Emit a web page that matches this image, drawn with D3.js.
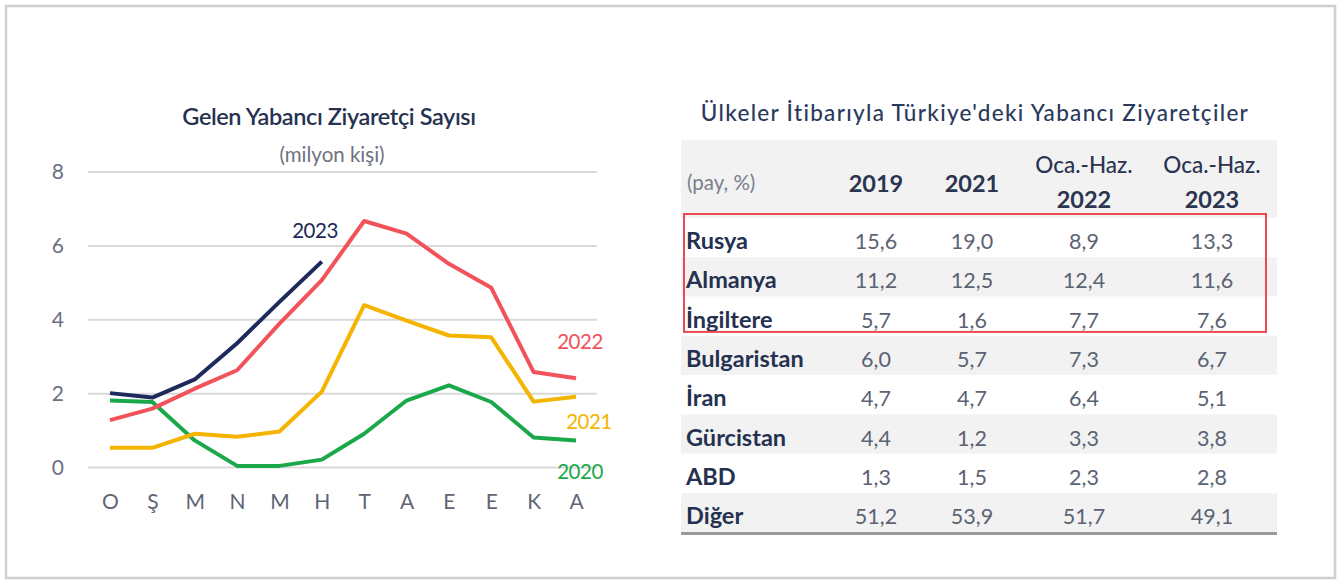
<!DOCTYPE html>
<html>
<head>
<meta charset="utf-8">
<script src="https://cdn.jsdelivr.net/npm/d3@7"></script>
<style>
  html, body { margin: 0; padding: 0; background: #fff; }
  svg { display: block; }
  text { font-family: Lato, "Open Sans", sans-serif; }
</style>
</head>
<body>
<svg id="chart" width="1342" height="585"></svg>
<script>
// ---------- DATA ----------
const months = ["O", "Ş", "M", "N", "M ", "H", "T", "A", "E", "E ", "K", "A "];
const monthLabels = ["O", "Ş", "M", "N", "M", "H", "T", "A", "E", "E", "K", "A"];
const yTicks = [0, 2, 4, 6, 8];
const series2020 = [1.80, 1.76, 0.72, 0.03, 0.03, 0.20, 0.90, 1.80, 2.21, 1.76, 0.80, 0.72];
const series2021 = [0.52, 0.52, 0.90, 0.82, 0.96, 2.04, 4.38, 3.96, 3.56, 3.51, 1.77, 1.90];
const series2022 = [1.27, 1.58, 2.12, 2.62, 3.88, 5.06, 6.66, 6.32, 5.50, 4.85, 2.57, 2.40];
const series2023 = [2.00, 1.88, 2.37, 3.35, 4.47, 5.56];
const seriesNames = ["2020", "2021", "2022", "2023"];

const tableTitle = "Ülkeler İtibarıyla Türkiye'deki Yabancı Ziyaretçiler";
const tableUnit = "(pay, %)";
const tableHeaders = [["2019"], ["2021"], ["Oca.-Haz.", "2022"], ["Oca.-Haz.", "2023"]];
const countries = ["Rusya", "Almanya", "İngiltere", "Bulgaristan", "İran", "Gürcistan", "ABD", "Diğer"];
const share2019 = ["15,6", "11,2", "5,7", "6,0", "4,7", "4,4", "1,3", "51,2"];
const share2021 = ["19,0", "12,5", "1,6", "5,7", "4,7", "1,2", "1,5", "53,9"];
const shareH1_2022 = ["8,9", "12,4", "7,7", "7,3", "6,4", "3,3", "2,3", "51,7"];
const shareH1_2023 = ["13,3", "11,6", "7,6", "6,7", "5,1", "3,8", "2,8", "49,1"];
const highlighted = ["Rusya", "Almanya", "İngiltere"];

// ---------- SETUP ----------
const svg = d3.select("#chart");
const colors = { "2020": "#1aa84a", "2021": "#f4b400", "2022": "#f2525a", "2023": "#1d2a5b" };

// frame
svg.append("rect").attr("x", 6).attr("y", 6).attr("width", 1329).attr("height", 572)
  .attr("fill", "#fff").attr("stroke", "#cfcfcf").attr("stroke-width", 2.5);

// ---------- LINE CHART ----------
const x = d3.scalePoint().domain(months).range([110, 576]);
const y = d3.scaleLinear().domain([0, 8]).range([467, 171.5]);

const g = svg.append("g");
g.append("text").attr("x", 329).attr("y", 125).attr("text-anchor", "middle")
  .attr("font-size", 23.5).attr("font-weight", 600).attr("fill", "#263250")
  .attr("letter-spacing", -0.4)
  .text("Gelen Yabancı Ziyaretçi Sayısı");
g.append("text").attr("x", 332).attr("y", 162).attr("text-anchor", "middle")
  .attr("font-size", 20.5).attr("fill", "#6d7280")
  .text("(milyon kişi)");

// grid
const yAxis = d3.axisLeft(y).tickValues(yTicks).tickSize(-(597 - 88)).tickPadding(20);
const ya = g.append("g").attr("transform", "translate(88,0)").call(yAxis);
ya.select(".domain").remove();
ya.selectAll(".tick line").attr("stroke", "#d9d9d9").attr("stroke-width", 2);
ya.selectAll(".tick text").attr("font-size", 21).attr("fill", "#6b7080")
  .attr("font-family", "Lato, sans-serif").attr("dy", "0.35em").attr("x", -24);

const xAxis = d3.axisBottom(x).tickSize(0).tickPadding(0)
  .tickFormat((d, i) => monthLabels[i]);
const xa = g.append("g").attr("transform", "translate(0,502)").call(xAxis);
xa.select(".domain").remove();
xa.selectAll(".tick text").attr("font-size", 21).attr("fill", "#5f6575")
  .attr("font-family", "Lato, sans-serif").attr("dy", "0.35em");

const line = d3.line().x((d, i) => x(months[i])).y(d => y(d));
const allSeries = { "2020": series2020, "2021": series2021, "2022": series2022, "2023": series2023 };
seriesNames.forEach(name => {
  g.append("path").datum(allSeries[name]).attr("d", line)
    .attr("fill", "none").attr("stroke", colors[name]).attr("stroke-width", 4)
    .attr("stroke-linejoin", "round").attr("stroke-linecap", "butt");
});

const seriesLabels = [
  { name: "2023", x: 315, y: 238 },
  { name: "2022", x: 580, y: 349 },
  { name: "2021", x: 589, y: 429 },
  { name: "2020", x: 580, y: 479 }
];
seriesLabels.forEach(l => {
  g.append("text").attr("x", l.x).attr("y", l.y).attr("text-anchor", "middle")
    .attr("font-size", 20.5).attr("fill", colors[l.name]).attr("letter-spacing", -0.5)
    .text(l.name);
});

// ---------- TABLE ----------
const t = svg.append("g");
const colX = [876, 972, 1084, 1212];
const tableLeft = 681, tableRight = 1277;
const rowTop = 218, rowH = 39.3;

t.append("text").attr("x", 975).attr("y", 121).attr("text-anchor", "middle")
  .attr("font-size", 22.5).attr("fill", "#2b3a5c").attr("letter-spacing", 1.3)
  .attr("font-weight", 500)
  .text(tableTitle);

// header band
t.append("rect").attr("x", tableLeft).attr("y", 140).attr("width", tableRight - tableLeft)
  .attr("height", rowTop - 140).attr("fill", "#f2f2f2");
t.append("text").attr("x", 687).attr("y", 190).attr("font-size", 20.5).attr("fill", "#7a7f8c")
  .text(tableUnit);
tableHeaders.forEach((h, i) => {
  if (h.length === 1) {
    t.append("text").attr("x", colX[i]).attr("y", 192).attr("text-anchor", "middle")
      .attr("font-size", 23.5).attr("font-weight", 700).attr("fill", "#2b3550").text(h[0]);
  } else {
    t.append("text").attr("x", colX[i]).attr("y", 173).attr("text-anchor", "middle")
      .attr("font-size", 22.5).attr("font-weight", 500).attr("fill", "#2b3550").text(h[0]);
    t.append("text").attr("x", colX[i]).attr("y", 208).attr("text-anchor", "middle")
      .attr("font-size", 23.5).attr("font-weight", 700).attr("fill", "#2b3550").text(h[1]);
  }
});

const rows = countries.map((c, i) => ({
  name: c, vals: [share2019[i], share2021[i], shareH1_2022[i], shareH1_2023[i]], i
}));
const rg = t.selectAll("g.row").data(rows).enter().append("g").attr("class", "row")
  .attr("transform", d => `translate(0,${rowTop + d.i * rowH})`);
rg.append("rect").attr("x", tableLeft).attr("y", 0).attr("width", tableRight - tableLeft)
  .attr("height", rowH).attr("fill", d => d.i % 2 === 1 ? "#f2f2f2" : "#ffffff");
rg.append("text").attr("x", 686).attr("y", 31).attr("font-size", 23.5).attr("font-weight", 700)
  .attr("fill", "#253150").text(d => d.name);
rg.each(function(d) {
  d3.select(this).selectAll("text.v").data(d.vals).enter().append("text").attr("class", "v")
    .attr("x", (v, j) => colX[j]).attr("y", 31).attr("text-anchor", "middle")
    .attr("font-size", 21.5).attr("fill", "#5c6272").text(v => v);
});

// bottom rule
t.append("line").attr("x1", tableLeft).attr("x2", tableRight)
  .attr("y1", rowTop + countries.length * rowH + 1).attr("y2", rowTop + countries.length * rowH + 1)
  .attr("stroke", "#999", ).attr("stroke-width", 3);

// highlight box
const hiIdx = highlighted.map(h => countries.indexOf(h));
t.append("rect").attr("x", 684).attr("y", rowTop - 4)
  .attr("width", 1266 - 684).attr("height", (d3.max(hiIdx) + 1) * rowH + 0)
  .attr("fill", "none").attr("stroke", "#ec4a52").attr("stroke-width", 2);
</script>
</body>
</html>
